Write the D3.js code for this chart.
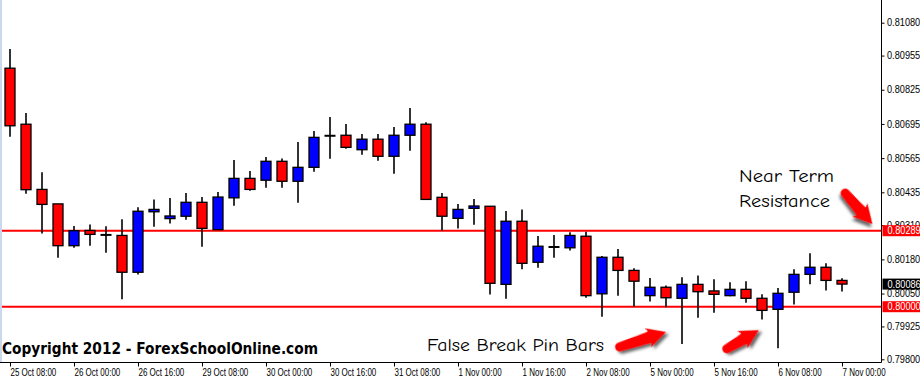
<!DOCTYPE html>
<html>
<head>
<meta charset="utf-8">
<script src="https://cdn.jsdelivr.net/npm/d3@7"></script>
<style>
body { margin: 0; background: #fff; }
svg { display: block; }
.axis text { font-family: "Liberation Sans", Arial, sans-serif; font-size: 10px; fill: #000; }
</style>
</head>
<body>
<script>
//4 hour candles
var opens  = [0.80907,0.80694,0.80446,0.80391,0.80232,0.80290,0.80273,0.80271,0.80131,0.80361,0.80335,0.80344,0.80397,0.80293,0.80414,0.80488,0.80481,0.80553,0.80477,0.80530,0.80650,0.80652,0.80597,0.80637,0.80572,0.80652,0.80694,0.80416,0.80336,0.80374,0.80382,0.80085,0.80325,0.80169,0.80227,0.80224,0.80268,0.80049,0.80188,0.80138,0.80042,0.80074,0.80032,0.80085,0.80060,0.80042,0.80066,0.80032,0.79990,0.80055,0.80123,0.80150,0.80100];
var highs  = [0.80980,0.80737,0.80511,0.80391,0.80307,0.80313,0.80306,0.80333,0.80378,0.80408,0.80413,0.80432,0.80417,0.80436,0.80558,0.80516,0.80569,0.80564,0.80626,0.80668,0.80721,0.80695,0.80657,0.80657,0.80683,0.80756,0.80701,0.80432,0.80391,0.80410,0.80383,0.80364,0.80370,0.80269,0.80273,0.80283,0.80285,0.80193,0.80219,0.80146,0.80109,0.80081,0.80112,0.80119,0.80104,0.80093,0.80097,0.80047,0.80071,0.80142,0.80203,0.80165,0.80108];
var lows   = [0.80646,0.80430,0.80278,0.80186,0.80224,0.80232,0.80205,0.80028,0.80122,0.80304,0.80316,0.80331,0.80228,0.80293,0.80384,0.80441,0.80452,0.80452,0.80395,0.80513,0.80563,0.80601,0.80578,0.80555,0.80506,0.80593,0.80408,0.80289,0.80297,0.80312,0.80046,0.80030,0.80142,0.80148,0.80186,0.80214,0.80034,0.79962,0.80042,0.80000,0.80020,0.79998,0.79858,0.79958,0.79977,0.80040,0.80015,0.79951,0.79842,0.80008,0.80085,0.80062,0.80058];
var closes = [0.80688,0.80445,0.80389,0.80232,0.80289,0.80275,0.80273,0.80131,0.80363,0.80370,0.80345,0.80397,0.80298,0.80417,0.80488,0.80446,0.80553,0.80477,0.80530,0.80644,0.80650,0.80606,0.80637,0.80572,0.80652,0.80694,0.80408,0.80344,0.80370,0.80383,0.80089,0.80325,0.80165,0.80230,0.80227,0.80271,0.80042,0.80188,0.80138,0.80097,0.80074,0.80034,0.80085,0.80057,0.80047,0.80066,0.80032,0.79986,0.80051,0.80123,0.80150,0.80100,0.80086];

var xLabels = ["25 Oct 08:00","26 Oct 00:00","26 Oct 16:00","29 Oct 08:00","30 Oct 00:00","30 Oct 16:00","31 Oct 08:00","1 Nov 00:00","1 Nov 16:00","2 Nov 08:00","5 Nov 00:00","5 Nov 16:00","6 Nov 08:00","7 Nov 00:00"];
var yTicks = [0.81080,0.80955,0.80825,0.80695,0.80565,0.80435,0.80310,0.80180,0.80050,0.79925,0.79800];

//horizontal levels and the last price
var levels = [0.80289, 0.80000];
var lastPrice = 0.80086;

//arrows: [tail index, tail price, tip index, tip price]
var arrows = [
    [52.2, 0.80432, 53.9, 0.80314],
    [38.1, 0.79847, 41.0, 0.79904],
    [44.8, 0.79840, 46.8, 0.79911]
];

window.onload = setChart();

function setChart(){
    var width = 920,
        height = 377,
        plotRight = 881.5,
        plotBottom = 362.5;

    var svg = d3.select("body")
        .append("svg")
        .attr("width", width)
        .attr("height", height);

    var defs = svg.append("defs");
    var f = defs.append("filter").attr("id", "shadow")
        .attr("x", "-50%").attr("y", "-50%").attr("width", "200%").attr("height", "200%");
    f.append("feDropShadow")
        .attr("dx", 2).attr("dy", 3)
        .attr("stdDeviation", 1.6)
        .attr("flood-color", "#333")
        .attr("flood-opacity", 0.75);

    var x = d3.scaleLinear().domain([0, 52]).range([10, 842]);
    var y = d3.scaleLinear().domain([0.79800, 0.81080]).range([359.3, 22.7]);

    //left edge strip
    svg.append("rect")
        .attr("x", 0).attr("y", 0)
        .attr("width", 2).attr("height", plotBottom)
        .attr("fill", "#c9d8ec");

    //support / resistance lines
    svg.selectAll(".level")
        .data(levels)
        .enter()
        .append("line")
        .attr("class", "level")
        .attr("x1", 2).attr("x2", plotRight)
        .attr("y1", function(d){ return y(d); })
        .attr("y2", function(d){ return y(d); })
        .attr("stroke", "#ff0000")
        .attr("stroke-width", 2);

    var candles = d3.range(opens.length).map(function(i){
        return { i: i, o: opens[i], h: highs[i], l: lows[i], c: closes[i] };
    });

    var g = svg.append("g").attr("class", "candles");

    //wicks
    g.selectAll(".wick")
        .data(candles)
        .enter()
        .append("line")
        .attr("x1", function(d){ return x(d.i); })
        .attr("x2", function(d){ return x(d.i); })
        .attr("y1", function(d){ return y(d.h); })
        .attr("y2", function(d){ return y(d.l); })
        .attr("stroke", "#000")
        .attr("stroke-width", 1.6);

    //bodies
    var bodyW = 10;
    g.selectAll(".body")
        .data(candles.filter(function(d){ return d.o != d.c; }))
        .enter()
        .append("rect")
        .attr("x", function(d){ return x(d.i) - bodyW / 2; })
        .attr("y", function(d){ return y(Math.max(d.o, d.c)); })
        .attr("width", bodyW)
        .attr("height", function(d){ return Math.max(1, y(Math.min(d.o, d.c)) - y(Math.max(d.o, d.c))); })
        .attr("fill", function(d){ return d.c > d.o ? "#0000ff" : "#ff0000"; })
        .attr("stroke", "#000")
        .attr("stroke-width", 1.3);

    //doji
    g.selectAll(".doji")
        .data(candles.filter(function(d){ return d.o == d.c; }))
        .enter()
        .append("line")
        .attr("x1", function(d){ return x(d.i) - bodyW / 2 - 0.5; })
        .attr("x2", function(d){ return x(d.i) + bodyW / 2 + 0.5; })
        .attr("y1", function(d){ return y(d.c); })
        .attr("y2", function(d){ return y(d.c); })
        .attr("stroke", "#000")
        .attr("stroke-width", 2);

    //right price axis
    var yAxis = d3.axisRight(y)
        .tickValues(yTicks)
        .tickSize(3)
        .tickFormat(d3.format(".5f"));

    var ya = svg.append("g")
        .attr("class", "axis")
        .attr("transform", "translate(" + plotRight + ",0)")
        .call(yAxis);
    ya.select(".domain").remove();
    ya.selectAll("line").attr("stroke", "#000");
    ya.selectAll("text")
        .attr("x", 0)
        .attr("transform", "translate(5.5,0) scale(0.92,1)");

    svg.append("line")
        .attr("x1", plotRight).attr("x2", plotRight)
        .attr("y1", 0).attr("y2", plotBottom)
        .attr("stroke", "#000");

    //bottom time axis
    var xAxis = d3.axisBottom(x)
        .tickValues(d3.range(0, 53, 4))
        .tickSize(4)
        .tickFormat(function(d, i){ return xLabels[i]; });

    var xa = svg.append("g")
        .attr("class", "axis")
        .attr("transform", "translate(0," + plotBottom + ")")
        .call(xAxis);
    xa.select(".domain").remove();
    xa.selectAll("line").attr("stroke", "#000");
    xa.selectAll("text")
        .attr("text-anchor", "start")
        .attr("x", 0).attr("y", 0).attr("dy", 0)
        .attr("transform", "translate(0,13) scale(0.8,1)");

    svg.append("line")
        .attr("x1", 0).attr("x2", plotRight)
        .attr("y1", plotBottom).attr("y2", plotBottom)
        .attr("stroke", "#000");

    //price tags on the axis
    var tags = [
        { v: levels[0], bg: "#ff0000" },
        { v: levels[1], bg: "#ff0000" },
        { v: lastPrice, bg: "#000000" }
    ];
    var tag = svg.selectAll(".tag")
        .data(tags)
        .enter()
        .append("g")
        .attr("transform", function(d){ return "translate(" + (plotRight + 1) + "," + y(d.v) + ")"; });
    tag.append("rect")
        .attr("x", 0).attr("y", -5.5)
        .attr("width", 39).attr("height", 11)
        .attr("fill", function(d){ return d.bg; });
    tag.append("text")
        .attr("transform", "translate(5,0) scale(0.92,1)")
        .attr("dy", "0.35em")
        .style("font-family", "Liberation Sans, Arial, sans-serif")
        .style("font-size", "10px")
        .attr("fill", "#fff")
        .text(function(d){ return d3.format(".5f")(d.v); });

    //annotation arrows
    svg.selectAll(".arrow")
        .data(arrows)
        .enter()
        .append("path")
        .attr("class", "arrow")
        .attr("fill", "#ff0000")
        .attr("filter", "url(#shadow)")
        .attr("d", function(d){
            var x1 = x(d[0]), y1 = y(d[1]), x2 = x(d[2]), y2 = y(d[3]);
            var L = Math.hypot(x2 - x1, y2 - y1);
            var hl = 17, hw = 10, s = 4.5;
            var pts = "M0," + (-s) +
                " Q" + (L * 0.5) + "," + (-s - 1) + " " + (L - hl) + "," + (-s - 1.5) +
                " L" + (L - hl - 2) + "," + (-hw) +
                " L" + L + ",0" +
                " L" + (L - hl - 2) + "," + hw +
                " L" + (L - hl) + "," + (s + 1.5) +
                " Q" + (L * 0.5) + "," + (s + 1) + " 0," + s +
                " A" + s + "," + s + " 0 0 1 0," + (-s) + " Z";
            return pts;
        })
        .attr("transform", function(d){
            var x1 = x(d[0]), y1 = y(d[1]), x2 = x(d[2]), y2 = y(d[3]);
            var a = Math.atan2(y2 - y1, x2 - x1) * 180 / Math.PI;
            return "translate(" + x1 + "," + y1 + ") rotate(" + a + ")";
        });

    //annotation text
    var comic = "'Comic Sans MS', 'Comic Neue', 'DejaVu Sans', sans-serif";
    svg.append("text")
        .attr("x", 739).attr("y", 181.5)
        .attr("textLength", 95).attr("lengthAdjust", "spacingAndGlyphs")
        .style("font-family", comic).style("font-size", "18px")
        .text("Near Term");
    svg.append("text")
        .attr("x", 739).attr("y", 207)
        .attr("textLength", 91).attr("lengthAdjust", "spacingAndGlyphs")
        .style("font-family", comic).style("font-size", "18px")
        .text("Resistance");
    svg.append("text")
        .attr("x", 427).attr("y", 350.5)
        .attr("textLength", 177).attr("lengthAdjust", "spacingAndGlyphs")
        .style("font-family", comic).style("font-size", "18px")
        .text("False Break Pin Bars");

    svg.append("text")
        .attr("x", 2).attr("y", 354)
        .attr("textLength", 316).attr("lengthAdjust", "spacingAndGlyphs")
        .style("font-family", "'DejaVu Sans', Verdana, sans-serif")
        .style("font-weight", "bold")
        .style("font-size", "16.5px")
        .text("Copyright 2012 - ForexSchoolOnline.com");
}
</script>
</body>
</html>
